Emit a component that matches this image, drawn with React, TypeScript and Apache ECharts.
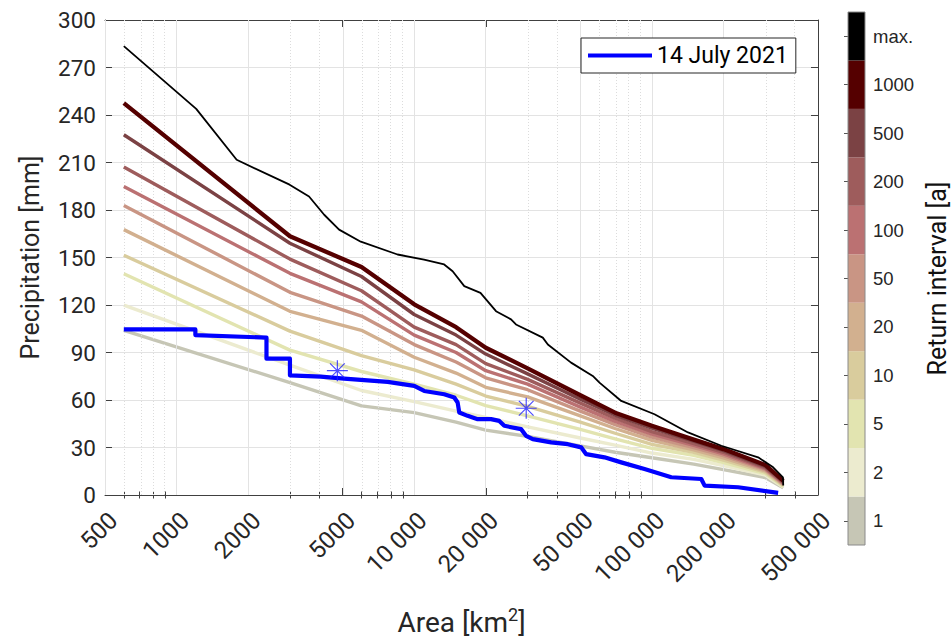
import React, { useEffect, useRef } from 'react';
import * as echarts from 'echarts';

// ---------- data ----------
const areas = [600, 3000, 6000, 10000, 15000, 20000, 30000, 50000, 70000, 100000, 150000, 200000, 300000, 357000];

const returnLabels = ['1', '2', '5', '10', '20', '50', '100', '200', '500', '1000', 'max.'];
const returnColors = ['#c6c6b5', '#ecebcf', '#e2e4b0', '#d9cc9d', '#d2b08f', '#c99584', '#bb7172', '#9e5c5c', '#7b4244', '#550000', '#000000'];

const rp1 = [104, 71, 56.3, 52, 46, 41, 37, 31, 27, 23.5, 19.5, 16, 11, 4.5];
const rp2 = [119.9, 82, 66, 59, 53, 49, 43, 36, 31.5, 26.5, 22.5, 18.5, 12.6, 5];
const rp5 = [139.7, 91.5, 78, 70, 63, 56.5, 50, 41.5, 35.5, 29.5, 25, 20.5, 13.6, 5.5];
const rp10 = [151.4, 103.5, 88, 79, 70, 62.5, 56, 46, 39, 32, 27, 22, 14.5, 6];
const rp20 = [167.6, 116, 104, 87, 77, 68, 62, 50, 42, 34.5, 28.5, 23.5, 15.3, 6.5];
const rp50 = [182.9, 128, 113, 95, 84, 74, 66.5, 53, 44.5, 36.5, 30, 24.8, 16, 7];
const rp100 = [194.9, 140, 122, 101, 90, 78.5, 70, 55.5, 46.5, 38.5, 31.3, 26, 16.6, 7.5];
const rp200 = [207.1, 149, 129, 106, 95, 83, 73, 58, 48.5, 40, 32.5, 27, 17.3, 8];
const rp500 = [227.5, 159, 138, 114, 101, 89, 76.5, 60.5, 50.5, 42.2, 34, 28, 18, 8.5];
const rp1000 = [247.5, 163.4, 144, 120.4, 106, 93, 80, 63, 52, 43.7, 35, 29, 19, 9];

const maxAreas = [600, 1210, 1790, 2990, 3610, 4180, 4830, 5960, 8510, 11000, 13370, 14510, 16240, 19000, 22090, 25550, 26800, 34750, 36500, 45700, 56400, 60200, 74300, 102600, 141900, 196000, 279900, 323800, 356000, 357000];
const maxValues = [283.5, 243.9, 211.7, 196, 188.5, 177, 167.6, 160, 151.9, 148.7, 145.6, 141.3, 131.9, 127.7, 116.1, 110.9, 107.7, 99.4, 95.1, 83.6, 75.2, 71, 59.4, 51, 39.5, 31.1, 23.8, 17.5, 11.2, 6];

const eventName = '14 July 2021';
const eventAreas = [600, 1200, 1200, 2390, 2390, 3000, 3000, 4040, 5070, 7730, 10000, 11020, 13370, 14740, 15230, 15470, 16780, 18490, 21040, 22800, 23940, 28150, 29550, 31540, 37670, 44300, 50400, 52900, 63150, 74300, 93100, 120700, 161400, 166700, 230600, 339800];
const eventValues = [104.6, 104.6, 101, 99.4, 86.1, 86.1, 75.6, 74.8, 73.5, 71.4, 68.9, 65.7, 63.6, 61.6, 58.4, 52.1, 50, 47.9, 47.9, 46.8, 43.7, 41.6, 37.4, 35.3, 33.2, 32.1, 30.1, 25.8, 23.8, 20.6, 16.4, 11.2, 10.1, 5.9, 4.9, 1.3];

const starAreas = [4750, 29600];
const starValues = [78.5, 54.8];

const xMajorTicks = [500, 1000, 2000, 5000, 10000, 20000, 50000, 100000, 200000, 500000];
const xMajorLabels = ['500', '1000', '2000', '5000', '10 000', '20 000', '50 000', '100 000', '200 000', '500 000'];
const xMinorTicks = [600, 700, 800, 900, 3000, 4000, 6000, 7000, 8000, 9000, 30000, 40000, 60000, 70000, 80000, 90000, 300000, 400000];

// ---------- helpers ----------
const lg = (a: number) => Math.log10(a);
const pairs = (xs: number[], ys: number[]) => xs.map((a, i) => [lg(a), ys[i]]);
const X_MIN = lg(500);
const X_MAX = lg(500000);
const AX = '#404040';
const FONT = 'Roboto';

const rpSeries = [rp1, rp2, rp5, rp10, rp20, rp50, rp100, rp200, rp500, rp1000];

function buildOption(): any {
  const baseX = {
    type: 'value',
    gridIndex: 0,
    min: X_MIN,
    max: X_MAX,
    splitLine: { show: false },
  };
  const xAxes: any[] = [
    {
      ...baseX,
      position: 'bottom',
      axisLine: { show: true, onZero: false, lineStyle: { color: AX, width: 1 } },
      axisTick: { show: true, inside: true, length: 7, customValues: xMajorTicks.map(lg), lineStyle: { color: AX } },
      axisLabel: {
        show: true,
        customValues: xMajorTicks.map(lg),
        rotate: 45,
        margin: 13,
        verticalAlign: 'top',
        fontSize: 24,
        fontFamily: FONT,
        color: '#262626',
        formatter: (v: number) => {
          const i = xMajorTicks.findIndex((t) => Math.abs(lg(t) - v) < 1e-6);
          return i >= 0 ? xMajorLabels[i] : '';
        },
      },
      name: 'Area [km{sup|2}]',
      nameLocation: 'middle',
      nameGap: 110,
      nameTextStyle: {
        fontSize: 28,
        fontFamily: FONT,
        color: '#262626',
        rich: { sup: { fontSize: 18, fontFamily: FONT, color: '#262626', padding: [0, 0, 16, 0] } },
      },
    },
    {
      ...baseX,
      position: 'bottom',
      axisLine: { show: false },
      axisTick: { show: true, inside: true, length: 3.5, customValues: xMinorTicks.map(lg), lineStyle: { color: AX } },
      axisLabel: { show: false },
    },
    {
      ...baseX,
      position: 'top',
      axisLine: { show: true, onZero: false, lineStyle: { color: AX, width: 1 } },
      axisTick: { show: true, inside: true, length: 7, customValues: xMajorTicks.map(lg), lineStyle: { color: AX } },
      axisLabel: { show: false },
    },
    {
      ...baseX,
      position: 'top',
      axisLine: { show: false },
      axisTick: { show: true, inside: true, length: 3.5, customValues: xMinorTicks.map(lg), lineStyle: { color: AX } },
      axisLabel: { show: false },
    },
    {
      type: 'value',
      gridIndex: 1,
      min: 0,
      max: 1,
      show: false,
    },
  ];

  const yAxes: any[] = [
    {
      type: 'value',
      gridIndex: 0,
      position: 'left',
      min: 0,
      max: 300,
      interval: 30,
      axisLine: { show: true, onZero: false, lineStyle: { color: AX, width: 1 } },
      axisTick: { show: true, inside: true, length: 7, lineStyle: { color: AX } },
      axisLabel: { fontSize: 22.5, fontFamily: FONT, color: '#262626', margin: 9 },
      splitLine: { show: true, lineStyle: { color: '#e3e3e3', width: 1 } },
      name: 'Precipitation [mm]',
      nameLocation: 'middle',
      nameGap: 62,
      nameTextStyle: { fontSize: 25, fontFamily: FONT, color: '#262626' },
    },
    {
      type: 'value',
      gridIndex: 0,
      position: 'right',
      min: 0,
      max: 300,
      interval: 30,
      axisLine: { show: true, onZero: false, lineStyle: { color: AX, width: 1 } },
      axisTick: { show: true, inside: true, length: 7, lineStyle: { color: AX } },
      axisLabel: { show: false },
      splitLine: { show: false },
    },
    {
      type: 'category',
      gridIndex: 1,
      position: 'right',
      data: returnLabels,
      axisLine: { show: false },
      axisTick: { show: true, inside: true, length: 4, alignWithLabel: true, lineStyle: { color: '#555' } },
      axisLabel: { fontSize: 18.5, fontFamily: 'Liberation Sans', color: '#262626', margin: 8 },
      splitLine: { show: false },
      name: 'Return interval [a]',
      nameLocation: 'middle',
      nameRotate: 90,
      nameGap: 60,
      nameTextStyle: { fontSize: 25, fontFamily: FONT, color: '#111' },
    },
  ];

  const series: any[] = [];

  // vertical grid lines (drawn at tick values through the x scale)
  series.push({
    type: 'line',
    xAxisIndex: 0,
    yAxisIndex: 0,
    data: [],
    silent: true,
    z: 1,
    markLine: {
      silent: true,
      symbol: ['none', 'none'],
      label: { show: false },
      animation: false,
      data: [
        ...xMajorTicks.map((t) => ({ xAxis: lg(t), lineStyle: { color: '#e3e3e3', width: 1, type: 'solid' } })),
        ...xMinorTicks.map((t) => ({ xAxis: lg(t), lineStyle: { color: '#dcdcdc', width: 1, type: [1, 2] } })),
      ],
    },
  });

  rpSeries.forEach((vals, i) => {
    series.push({
      type: 'line',
      name: 'RP ' + returnLabels[i],
      xAxisIndex: 0,
      yAxisIndex: 0,
      data: pairs(areas, vals),
      showSymbol: false,
      symbol: 'none',
      z: 3 + i,
      lineStyle: { color: returnColors[i], width: i === 9 ? 4.3 : 3.4, join: 'round' },
      itemStyle: { color: returnColors[i] },
    });
  });

  series.push({
    type: 'line',
    name: 'max.',
    xAxisIndex: 0,
    yAxisIndex: 0,
    data: pairs(maxAreas, maxValues),
    showSymbol: false,
    symbol: 'none',
    z: 20,
    lineStyle: { color: '#000', width: 1.8 },
    itemStyle: { color: '#000' },
  });

  series.push({
    type: 'line',
    name: eventName,
    xAxisIndex: 0,
    yAxisIndex: 0,
    data: pairs(eventAreas, eventValues),
    showSymbol: false,
    symbol: 'none',
    z: 21,
    lineStyle: { color: '#0000ff', width: 4.2, join: 'round' },
    itemStyle: { color: '#0000ff' },
  });

  series.push({
    type: 'scatter',
    name: 'stars',
    xAxisIndex: 0,
    yAxisIndex: 0,
    data: pairs(starAreas, starValues),
    symbol: 'path://M0,10L20,10M10,0L10,20M3,3L17,17M17,3L3,17',
    symbolSize: 21,
    z: 22,
    itemStyle: { color: 'rgba(0,0,0,0)', borderColor: '#2020ff', borderWidth: 1.2 },
  });

  // colorbar
  series.push({
    type: 'bar',
    name: 'colorbar',
    xAxisIndex: 4,
    yAxisIndex: 2,
    barCategoryGap: '0%',
    silent: true,
    data: returnColors.map((c) => ({ value: 1, itemStyle: { color: c } })),
  });

  return {
    animation: false,
    backgroundColor: '#ffffff',
    textStyle: { fontFamily: FONT },
    grid: [
      { left: 105, right: 134, top: 20, bottom: 145, containLabel: false },
      { left: 848, top: 12, width: 17, height: 533, show: true, z: 10, borderColor: '#8a8a8a', borderWidth: 1, backgroundColor: 'transparent' },
    ],
    legend: {
      data: [eventName],
      left: 581,
      top: 38,
      orient: 'horizontal',
      icon: 'rect',
      itemWidth: 64,
      itemHeight: 4,
      backgroundColor: '#ffffff',
      borderColor: '#262626',
      borderWidth: 1,
      borderRadius: 0,
      padding: [6, 8, 6, 7],
      selectedMode: false,
      textStyle: { fontSize: 23, fontFamily: FONT, color: '#000' },
      z: 30,
    },
    xAxis: xAxes,
    yAxis: yAxes,
    series,
  };
}

export default function App() {
  const ref = useRef<HTMLDivElement>(null);
  useEffect(() => {
    if (!ref.current) return;
    const chart = echarts.init(ref.current, null, { renderer: 'svg' });
    chart.setOption(buildOption());
    return () => chart.dispose();
  }, []);
  return (
    <div
      ref={ref}
      style={{ position: 'fixed', left: 0, top: 0, width: 952, height: 641, background: '#fff' }}
    />
  );
}
